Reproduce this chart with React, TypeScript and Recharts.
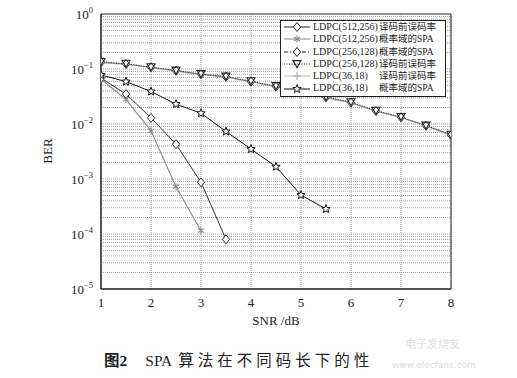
import React from 'react';
import { LineChart, Line, XAxis, YAxis, CartesianGrid, Legend, ReferenceArea, ReferenceLine } from 'recharts';

// SNR values (dB)
const snrAll = [1, 1.5, 2, 2.5, 3, 3.5, 4, 4.5, 5, 5.5, 6, 6.5, 7, 7.5, 8];
const snrSpa512 = [1, 1.5, 2, 2.5, 3];
const snrSpa256 = [1, 1.5, 2, 2.5, 3, 3.5];
const snrSpa36 = [1, 1.5, 2, 2.5, 3, 3.5, 4, 4.5, 5, 5.5];

// BER
const pre512 = [0.132, 0.123, 0.107, 0.093, 0.08, 0.072, 0.059, 0.048, 0.037, 0.0306, 0.0245, 0.0172, 0.0132, 0.0093, 0.0063];
const pre256 = [0.135, 0.125, 0.108, 0.094, 0.081, 0.073, 0.06, 0.049, 0.038, 0.031, 0.025, 0.0175, 0.0134, 0.0094, 0.0064];
const pre36 = [0.13, 0.121, 0.105, 0.091, 0.079, 0.071, 0.058, 0.047, 0.036, 0.03, 0.024, 0.017, 0.013, 0.0092, 0.0062];
const spa512 = [0.065, 0.028, 0.0075, 0.00072, 0.000115];
const spa256 = [0.068, 0.035, 0.0129, 0.0043, 0.00087, 0.00008];
const spa36 = [0.078, 0.059, 0.039, 0.023, 0.0157, 0.0073, 0.0035, 0.00167, 0.00051, 0.000285];

const xTicks = [1, 2, 3, 4, 5, 6, 7, 8];
const yTicks = [1e-5, 1e-4, 1e-3, 1e-2, 1e-1, 1];
const yExp: Record<string, string> = { '0.00001': '−5', '0.0001': '−4', '0.001': '−3', '0.01': '−2', '0.1': '−1', '1': '0' };

// log grid lines (1..9 x 10^k)
const yGrid: number[] = [];
for (let e = -5; e < 0; e++) for (let m = 1; m < 10; m++) yGrid.push(m * Math.pow(10, e));

const toRows = (xs: number[], ys: number[]) => xs.map((snr, i) => ({ snr, ber: ys[i] }));

const SERIF = "'Liberation Serif', 'Times New Roman', 'Noto Sans CJK SC', serif";

const Diamond = ({ cx, cy, color }: any) => (
  <path d={`M${cx},${cy - 4.5}L${cx + 3.6},${cy}L${cx},${cy + 4.5}L${cx - 3.6},${cy}Z`} fill="#fff" stroke={color} strokeWidth={1} />
);
const TriDown = ({ cx, cy, color }: any) => (
  <path d={`M${cx - 4},${cy - 3.4}L${cx + 4},${cy - 3.4}L${cx},${cy + 3.6}Z`} fill="none" stroke={color} strokeWidth={1.1} />
);
const Star = ({ cx, cy, color }: any) => {
  const pts: string[] = [];
  for (let i = 0; i < 10; i++) {
    const r = i % 2 === 0 ? 4.4 : 1.9;
    const a = -Math.PI / 2 + (i * Math.PI) / 5;
    pts.push(`${cx + r * Math.cos(a)},${cy + r * Math.sin(a)}`);
  }
  return <polygon points={pts.join(' ')} fill="#fff" stroke={color} strokeWidth={1} />;
};
const Asterisk = ({ cx, cy, color }: any) => (
  <g stroke={color} strokeWidth={1.1}>
    <line x1={cx} y1={cy - 3.5} x2={cx} y2={cy + 3.5} />
    <line x1={cx - 3} y1={cy - 2} x2={cx + 3} y2={cy + 2} />
    <line x1={cx - 3} y1={cy + 2} x2={cx + 3} y2={cy - 2} />
  </g>
);
const Plus = ({ cx, cy, color }: any) => (
  <g stroke={color} strokeWidth={1}>
    <line x1={cx} y1={cy - 4} x2={cx} y2={cy + 4} />
    <line x1={cx - 4} y1={cy} x2={cx + 4} y2={cy} />
  </g>
);

const dotOf = (Shape: any, color: string) => (p: any) => {
  if (p.cx == null || p.cy == null) return <g key={p.index} />;
  return <g key={p.index}><Shape cx={p.cx} cy={p.cy} color={color} /></g>;
};

const legendItems = [
  { code: 'LDPC(512,256)', text: '译码前误码率', stroke: '#222', dash: undefined, Shape: Diamond, mc: '#222' },
  { code: 'LDPC(512,256)', text: '概率域的SPA', stroke: '#888', dash: undefined, Shape: Asterisk, mc: '#888' },
  { code: 'LDPC(256,128)', text: '概率域的SPA', stroke: '#222', dash: '4 2 1 2', Shape: Diamond, mc: '#222' },
  { code: 'LDPC(256,128)', text: '译码前误码率', stroke: '#222', dash: '1 1.5', Shape: TriDown, mc: '#222' },
  { code: 'LDPC(36,18)', text: '译码前误码率', stroke: '#bbb', dash: undefined, Shape: Plus, mc: '#aaa' },
  { code: 'LDPC(36,18)', text: '概率域的SPA', stroke: '#111', dash: undefined, Shape: Star, mc: '#111' },
];

const LegendBox = () => (
  <div style={{ background: '#fff', border: '1px solid #222', width: 164, paddingBottom: 1, fontFamily: SERIF, fontSize: 10, color: '#222' }}>
    {legendItems.map((it, i) => (
      <div key={i} style={{ display: 'flex', alignItems: 'center', height: 12.3, lineHeight: '12.3px', whiteSpace: 'nowrap' }}>
        <svg width={29} height={12} style={{ marginLeft: 2, flex: 'none' }}>
          <line x1={1} y1={6} x2={27} y2={6} stroke={it.stroke} strokeWidth={1} strokeDasharray={it.dash} />
          <it.Shape cx={14} cy={6} color={it.mc} />
        </svg>
        <span style={{ display: 'inline-block', width: 66, marginLeft: 1, flex: 'none' }}>{it.code}</span>
        <span style={{ fontSize: 9.5 }}>{it.text}</span>
      </div>
    ))}
  </div>
);

const YTick = (props: any) => {
  const { x, y, payload } = props;
  const key = String(payload.value);
  return (
    <text x={x} y={y} dy={5} textAnchor="end" fontFamily={SERIF} fontSize={13} fill="#222">
      <tspan>10</tspan>
      <tspan dy={-6} fontSize={8.5}>{yExp[key] ?? ''}</tspan>
    </text>
  );
};

const XTick = (props: any) => {
  const { x, y, payload } = props;
  return (
    <text x={x} y={y} dy={10} textAnchor="middle" fontFamily={SERIF} fontSize={13} fill="#222">
      {payload.value}
    </text>
  );
};

export default function App() {
  return (
    <div style={{ position: 'absolute', left: 0, top: 0, width: 517, height: 378, background: '#fff' }}>
      <LineChart width={517} height={378} margin={{ top: 14, right: 66, left: 41, bottom: 59 }}>
        <CartesianGrid horizontal={false} verticalValues={xTicks} stroke="#666" strokeWidth={0.6} strokeDasharray="1 1" />
        <XAxis
          type="number"
          dataKey="snr"
          domain={[1, 8]}
          ticks={xTicks}
          tick={<XTick />}
          tickLine={false}
          axisLine={{ stroke: '#222' }}
          height={30}
          allowDataOverflow
        />
        <YAxis
          type="number"
          dataKey="ber"
          scale="log"
          domain={[1e-5, 1]}
          ticks={yTicks}
          tick={<YTick />}
          tickLine={false}
          axisLine={{ stroke: '#222' }}
          width={60}
          allowDataOverflow
        />
        {yGrid.map((v) => (
          <ReferenceLine key={v} y={v} stroke="#666" strokeWidth={0.6} strokeDasharray="1 1" />
        ))}
        <ReferenceArea x1={1} x2={8} y1={1e-5} y2={1} fill="none" stroke="#222" strokeWidth={1} />
        <Line data={toRows(snrAll, pre36)} dataKey="ber" stroke="#bbb" strokeWidth={1} dot={dotOf(Plus, '#aaa')} isAnimationActive={false} />
        <Line data={toRows(snrAll, pre512)} dataKey="ber" stroke="#888" strokeWidth={1} dot={dotOf(Diamond, '#333')} isAnimationActive={false} />
        <Line data={toRows(snrAll, pre256)} dataKey="ber" stroke="#333" strokeWidth={1} strokeDasharray="1 1.5" dot={dotOf(TriDown, '#222')} isAnimationActive={false} />
        <Line data={toRows(snrSpa512, spa512)} dataKey="ber" stroke="#888" strokeWidth={1.1} dot={dotOf(Asterisk, '#888')} isAnimationActive={false} />
        <Line data={toRows(snrSpa256, spa256)} dataKey="ber" stroke="#333" strokeWidth={1} dot={dotOf(Diamond, '#333')} isAnimationActive={false} />
        <Line data={toRows(snrSpa36, spa36)} dataKey="ber" stroke="#111" strokeWidth={1} dot={dotOf(Star, '#111')} isAnimationActive={false} />
        <Legend
          content={<LegendBox />}
          layout="horizontal"
          align="center"
          verticalAlign="middle"
          wrapperStyle={{ position: 'absolute', left: 280, top: 20, width: 'auto', height: 'auto' }}
        />
        <text x={49} y={151} transform="rotate(-90 49 151)" textAnchor="middle" dominantBaseline="middle" fontFamily={SERIF} fontSize={13} fill="#222">BER</text>
        <text x={276} y={325} textAnchor="middle" fontFamily={SERIF} fontSize={13} fill="#222">SNR  /dB</text>
      </LineChart>
      <div style={{ position: 'absolute', left: 104, top: 348, fontFamily: SERIF, fontSize: 15.5, color: '#222', whiteSpace: 'nowrap' }}>
        <span style={{ fontWeight: 600 }}>图2</span>
        <span style={{ marginLeft: 18 }}>SPA</span>
        <span style={{ marginLeft: 6, letterSpacing: 4 }}>算法在不同码长下的性</span>
      </div>
      <div style={{ position: 'absolute', left: 405, top: 336, fontFamily: 'Noto Sans CJK SC, sans-serif', fontSize: 11, lineHeight: '14px', color: '#ddd', whiteSpace: 'nowrap' }}>
        电子发烧友
      </div>
      <div style={{ position: 'absolute', left: 392, top: 360, fontFamily: 'Verdana, DejaVu Sans, sans-serif', fontSize: 9, lineHeight: '11px', color: '#ddd', whiteSpace: 'nowrap' }}>
        www.elecfans.com
      </div>
    </div>
  );
}
